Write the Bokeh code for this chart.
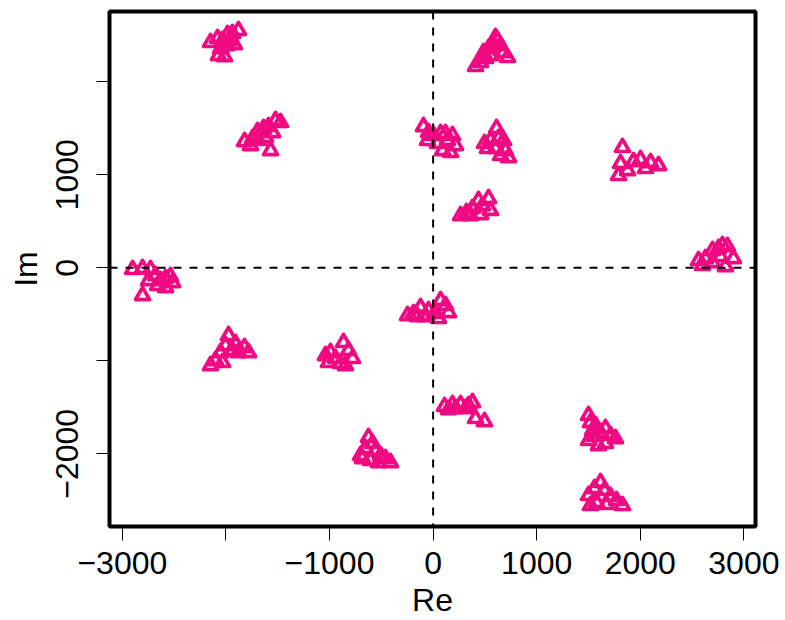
from bokeh.plotting import figure
from bokeh.models import Range1d, FixedTicker, Span, ColumnDataSource
from bokeh.embed import file_html
from bokeh.resources import INLINE

# ---- data: received symbols (Re, Im), grouped by constellation cluster ----
a_re = [-2149, -2081, -2033, -1985, -1937, -1879, -2052, -1994, -1917, -2072, -2014, -1965]
a_im = [2423, 2466, 2444, 2509, 2520, 2552, 2358, 2390, 2401, 2283, 2272, 2444]
b_re = [-1820, -1743, -1695, -1637, -1589, -1521, -1473, -1685, -1617, -1569, -1763, -1550]
b_im = [1358, 1390, 1466, 1498, 1520, 1584, 1563, 1369, 1401, 1261, 1315, 1455]
c_re = [-93, -44, 4, 72, 120, 187, -54, 42, 139, 91, 168, 216]
c_im = [1519, 1455, 1423, 1444, 1444, 1423, 1369, 1337, 1369, 1261, 1240, 1315]
d_re = [409, 457, 506, 554, 535, 583, 622, 602, 651, 680, 718, 486]
d_im = [2165, 2208, 2251, 2283, 2358, 2401, 2444, 2477, 2390, 2315, 2262, 2315]
e_re = [496, 554, 612, 631, 680, 525, 602, 699, 728, 651]
e_im = [1337, 1369, 1498, 1390, 1369, 1283, 1283, 1261, 1186, 1208]
f_re = [1828, 1809, 1935, 2002, 2099, 2176, 1790, 1877, 2050]
f_im = [1294, 1122, 1143, 1165, 1132, 1100, 993, 1046, 1068]
g_re = [265, 322, 380, 438, 477, 535, 361, 458, 554]
g_im = [562, 595, 638, 724, 670, 745, 562, 573, 617]
h_re = [2562, 2629, 2697, 2755, 2793, 2841, 2899, 2600, 2697, 2822, 2774]
h_im = [78, 100, 186, 208, 240, 229, 100, 25, 57, 14, 122]
i_re = [-2901, -2805, -2728, -2805, -2679, -2631, -2583, -2535, -2660, -2583, -2747, -2515]
i_im = [-18, -8, -18, -298, -83, -137, -115, -94, -190, -212, -137, -158]
j_re = [-2149, -2100, -2052, -2004, -1975, -1937, -1879, -1821, -1782, -2033, -1908]
j_im = [-1051, -997, -911, -836, -728, -889, -911, -857, -911, -1018, -814]
k_re = [-1039, -990, -942, -865, -817, -778, -1010, -894, -846]
k_im = [-943, -911, -975, -803, -889, -975, -1018, -1029, -1051]
l_re = [-247, -189, -122, -44, 14, 72, 120, 149, 52, -73, -151]
l_im = [-513, -491, -426, -459, -491, -352, -405, -481, -545, -524, -524]
m_re = [110, 187, 265, 342, 380, 216, 409, 496, 313, 149]
m_im = [-1491, -1470, -1470, -1481, -1449, -1513, -1620, -1653, -1513, -1524]
n_re = [-701, -653, -624, -585, -556, -508, -460, -411, -604, -527, -682]
n_im = [-2018, -1943, -1825, -1889, -1965, -2018, -2051, -2094, -2072, -2094, -2051]
o_re = [1500, 1519, 1539, 1568, 1616, 1664, 1712, 1761, 1500, 1596, 1664, 1558]
o_im = [-1588, -1664, -1750, -1696, -1771, -1728, -1803, -1836, -1857, -1911, -1889, -1814]
p_re = [1500, 1558, 1616, 1654, 1712, 1770, 1828, 1577, 1674, 1519]
p_im = [-2448, -2373, -2308, -2394, -2459, -2502, -2556, -2524, -2545, -2556]

x_ticks = [-3000, -2000, -1000, 0, 1000, 2000, 3000]
x_tick_labels = {-3000: "\u22123000", -2000: "", -1000: "\u22121000", 0: "0",
                 1000: "1000", 2000: "2000", 3000: "3000"}
y_ticks = [-2000, -1000, 0, 1000, 2000]
y_tick_labels = {-2000: "\u22122000", -1000: "", 0: "0", 1000: "1000", 2000: ""}
x_title = "Re"
y_title = "Im"

all_re = (a_re + b_re + c_re + d_re + e_re + f_re + g_re + h_re + i_re + j_re
          + k_re + l_re + m_re + n_re + o_re + p_re)
all_im = (a_im + b_im + c_im + d_im + e_im + f_im + g_im + h_im + i_im + j_im
          + k_im + l_im + m_im + n_im + o_im + p_im)

COLOR = "#F00A82"
FONT = "Liberation Sans"
FS = "32px"

p = figure(width=785, height=620,
           x_range=Range1d(-3124, 3112), y_range=Range1d(-2782, 2756),
           output_backend="svg", toolbar_location=None,
           min_border_left=109, min_border_right=30,
           min_border_top=11, min_border_bottom=94)
p.grid.visible = False
p.background_fill_color = "white"
p.border_fill_color = "white"
p.outline_line_color = "black"
p.outline_line_width = 4

src = ColumnDataSource(dict(re=all_re, im=all_im))
p.scatter("re", "im", source=src, marker="triangle", size=14,
          fill_color=None, line_color=COLOR, line_width=3.7, line_join="round")

p.add_layout(Span(location=0, dimension="height", line_color="black",
                  line_width=2, line_dash="8 8"))
p.add_layout(Span(location=0, dimension="width", line_color="black",
                  line_width=2, line_dash="8 8"))

for ax in (p.xaxis[0], p.yaxis[0]):
    ax.axis_line_color = None
    ax.minor_tick_line_color = None
    ax.major_tick_in = 0
    ax.major_tick_line_width = 1
    ax.major_tick_line_color = "black"
    ax.major_label_text_font = FONT
    ax.major_label_text_font_size = FS
    ax.major_label_text_color = "black"
    ax.axis_label_text_font = FONT
    ax.axis_label_text_font_size = FS
    ax.axis_label_text_font_style = "normal"
    ax.axis_label_text_color = "black"

p.xaxis.ticker = FixedTicker(ticks=x_ticks)
p.xaxis.major_label_overrides = x_tick_labels
p.xaxis.major_tick_out = 14
p.xaxis.major_label_standoff = 11
p.xaxis.axis_label = x_title
p.xaxis.axis_label_standoff = 5

p.yaxis.ticker = FixedTicker(ticks=y_ticks)
p.yaxis.major_label_overrides = y_tick_labels
p.yaxis.major_tick_out = 13
p.yaxis.major_label_orientation = "vertical"
p.yaxis.major_label_standoff = 18
p.yaxis.axis_label = y_title
p.yaxis.axis_label_standoff = 10

open("out.html", "w").write(file_html(p, INLINE))
